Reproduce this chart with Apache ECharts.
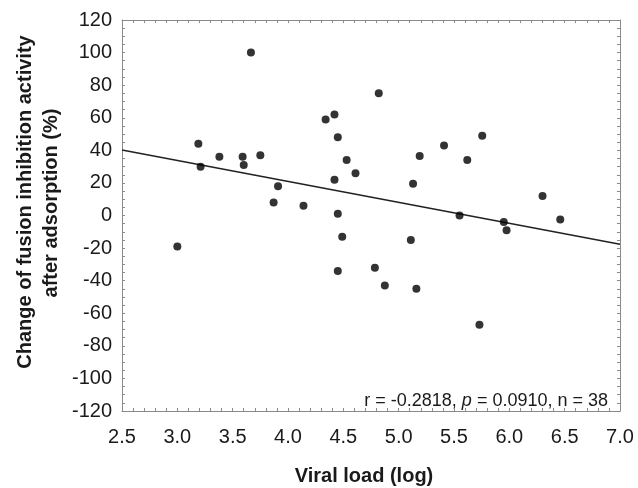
<!DOCTYPE html>
<html>
<head>
<meta charset="utf-8">
<script src="https://cdn.jsdelivr.net/npm/echarts@6/dist/echarts.min.js"></script>
<style>
    html, body { margin: 0; padding: 0; background: #fff; }
    #chart { width: 638px; height: 488px; }
</style>
</head>
<body>
<div id="chart"></div>
<script>
// viral load (log) of each sample
const viralLoad = [
    3.00, 3.19, 3.21, 3.38, 3.59, 3.60, 3.665, 3.75, 3.91, 3.87,
    4.14, 4.34, 4.42, 4.45, 4.53, 4.61, 4.42, 4.45, 4.82, 4.49,
    4.45, 4.785, 4.875, 5.11, 5.16, 5.73, 5.55, 5.95, 5.975, 6.46,
    5.13, 5.19, 5.41, 5.62, 5.755, 6.30,
]
// change of fusion inhibition activity (%)
const changePct = [
    -19, 44, 30, 36, 36, 31, 100, 37, 18, 8,
    6, 59, 62, 48, 34, 26, 22, 1, 75, -13,
    -34, -32, -43, -15, -45, -67, 0, -4, -9, -2.5,
    19.5, 36.5, 43, 34, 49, 12,
]
// regression line end points
const fitX = [2.5, 7.0]
const fitY = [40.2, -17.7]

const xTicks = { min: 2.5, max: 7.0, interval: 0.5 }
const yTicks = { min: -120, max: 120, interval: 20 }
const statsText = 'r = -0.2818, {i|p} = 0.0910, n = 38'

const font = 'Arial, "Liberation Sans", sans-serif'
const frame = '#8a8a8a'

const makeAxis = function (range, pos, labels, split, fmt) {
    return {
        type: 'value',
        position: pos,
        min: range.min,
        max: range.max,
        interval: range.interval,
        axisLine: { show: true, onZero: false, lineStyle: { color: frame, width: 1 } },
        axisTick: { show: true, inside: true, length: 3, lineStyle: { color: frame } },
        minorTick: { show: true, splitNumber: split, length: 3, lineStyle: { color: frame } },
        splitLine: { show: false },
        axisLabel: {
            show: labels,
            fontFamily: font,
            fontSize: 20,
            color: '#1a1a1a',
            margin: pos === 'bottom' ? 16 : 10,
            formatter: fmt,
        },
    }
}

const main = function () {
    let chart = echarts.init(document.getElementById('chart'), null, { renderer: 'canvas' })
    let points = viralLoad.map((x, i) => [x, changePct[i]])
    let fit = fitX.map((x, i) => [x, fitY[i]])
    let option = {
        animation: false,
        grid: { left: 122, top: 20, right: 18, bottom: 77 },
        xAxis: [
            makeAxis(xTicks, 'bottom', true, 5, v => v.toFixed(1)),
            makeAxis(xTicks, 'top', false, 5),
        ],
        yAxis: [
            makeAxis(yTicks, 'left', true, 4, v => String(v)),
            makeAxis(yTicks, 'right', false, 4),
        ],
        series: [
            {
                type: 'line',
                data: fit,
                symbol: 'none',
                lineStyle: { color: '#222', width: 1.6 },
                z: 2,
            },
            {
                type: 'scatter',
                data: points,
                symbolSize: 8,
                itemStyle: { color: '#000' },
                z: 3,
            },
        ],
        graphic: [
            {
                type: 'text',
                x: 25, y: 202, rotation: Math.PI / 2,
                style: {
                    text: 'Change of fusion inhibition activity',
                    font: 'bold 20px ' + font,
                    fill: '#1a1a1a', align: 'center', verticalAlign: 'middle',
                },
            },
            {
                type: 'text',
                x: 51, y: 203, rotation: Math.PI / 2,
                style: {
                    text: 'after adsorption (%)',
                    font: 'bold 20px ' + font,
                    fill: '#1a1a1a', align: 'center', verticalAlign: 'middle',
                },
            },
            {
                type: 'text',
                x: 364, y: 476,
                style: {
                    text: 'Viral load (log)',
                    font: 'bold 20px ' + font,
                    fill: '#1a1a1a', align: 'center', verticalAlign: 'middle',
                },
            },
            {
                type: 'text',
                x: 608, y: 401,
                style: {
                    text: statsText,
                    font: '18px ' + font,
                    fill: '#1a1a1a', align: 'right', verticalAlign: 'middle',
                    rich: { i: { fontStyle: 'italic', fontSize: 18, fontFamily: font } },
                },
            },
        ],
    }
    chart.setOption(option)
}

main()
</script>
</body>
</html>
